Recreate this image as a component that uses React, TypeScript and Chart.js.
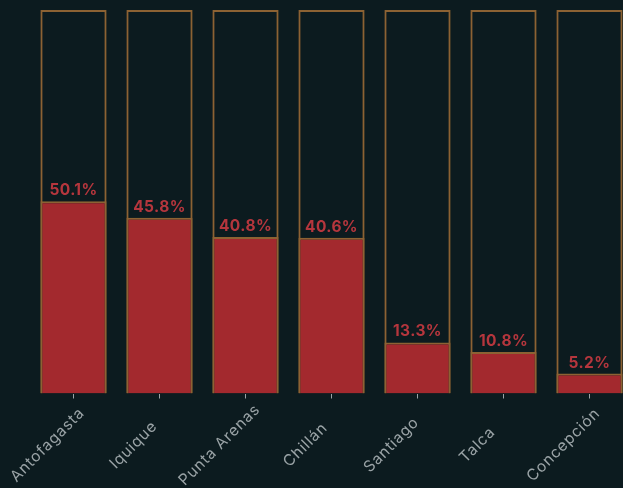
import React, { useEffect, useRef } from "react";
import { Chart, registerables } from "chart.js";

Chart.register(...registerables);

const categories = ["Antofagasta", "Iquique", "Punta Arenas", "Chillán", "Santiago", "Talca", "Concepción"];
const values = [50.1, 45.8, 40.8, 40.6, 13.3, 10.8, 5.2];
const fullValues = [100, 100, 100, 100, 100, 100, 100];

const BG = "#0c1b1f";
const RED = "#a3292e";
const OUTLINE = "#8c6233";
const LABEL_RED = "#b5363d";
const TICK_GREY = "#9aa3a6";

const valueLabelPlugin = {
  id: "valueLabels",
  afterDatasetsDraw(chart: any) {
    const meta = chart.getDatasetMeta(1);
    const ctx = chart.ctx;
    ctx.save();
    ctx.font = "bold 15.5px Inter";
    (ctx as any).letterSpacing = "0.4px";
    ctx.fillStyle = LABEL_RED;
    ctx.textAlign = "center";
    ctx.textBaseline = "alphabetic";
    meta.data.forEach((bar: any, i: number) => {
      ctx.fillText(values[i].toFixed(1) + "%", bar.x, bar.y - 6);
    });
    ctx.restore();
  },
};

const categoryLabelPlugin = {
  id: "categoryLabels",
  afterDraw(chart: any) {
    const xScale = chart.scales.x;
    const ctx = chart.ctx;
    ctx.save();
    ctx.font = "15.5px Inter";
    (ctx as any).letterSpacing = "0.8px";
    ctx.fillStyle = TICK_GREY;
    ctx.textAlign = "center";
    ctx.textBaseline = "middle";
    categories.forEach((c, i) => {
      const x = xScale.getPixelForValue(i);
      ctx.save();
      ctx.translate(x - 26, 445);
      ctx.rotate(-Math.PI / 4);
      ctx.fillText(c, 0, 0);
      ctx.restore();
    });
    ctx.restore();
  },
};

export default function App() {
  const ref = useRef<HTMLCanvasElement>(null);
  useEffect(() => {
    const canvas = ref.current!;
    const chart = new Chart(canvas, {
      type: "bar",
      data: {
        labels: categories,
        datasets: [
          {
            data: fullValues,
            backgroundColor: "rgba(0,0,0,0)",
            borderColor: OUTLINE,
            borderWidth: 2,
            grouped: false,
            order: 2,
            barPercentage: 0.77,
            categoryPercentage: 1,
          },
          {
            data: values,
            backgroundColor: RED,
            borderColor: OUTLINE,
            borderWidth: 2,
            grouped: false,
            order: 1,
            barPercentage: 0.77,
            categoryPercentage: 1,
          },
        ],
      },
      options: {
        responsive: false,
        animation: false,
        devicePixelRatio: 1,
        layout: { padding: { top: 10, left: 30.5, right: 17.5, bottom: 0 } },
        plugins: { legend: { display: false }, tooltip: { enabled: false } },
        scales: {
          y: { display: false, min: 0, max: 100 },
          x: {
            grid: { display: true, offset: false, drawOnChartArea: false, drawTicks: true, tickLength: 5, color: TICK_GREY, lineWidth: 1 },
            border: { display: false },
            ticks: { display: false, autoSkip: false },
            afterFit: (scale: any) => {
              scale.height = 488 - 393.5;
            },
          },
        },
      },
      plugins: [valueLabelPlugin, categoryLabelPlugin],
    });
    return () => chart.destroy();
  }, []);
  return (
    <div style={{ position: "fixed", left: 0, top: 0, width: 623, height: 488, overflow: "hidden", background: BG }}>
      <canvas ref={ref} width={650} height={488} style={{ display: "block", width: 650, height: 488 }} />
    </div>
  );
}
